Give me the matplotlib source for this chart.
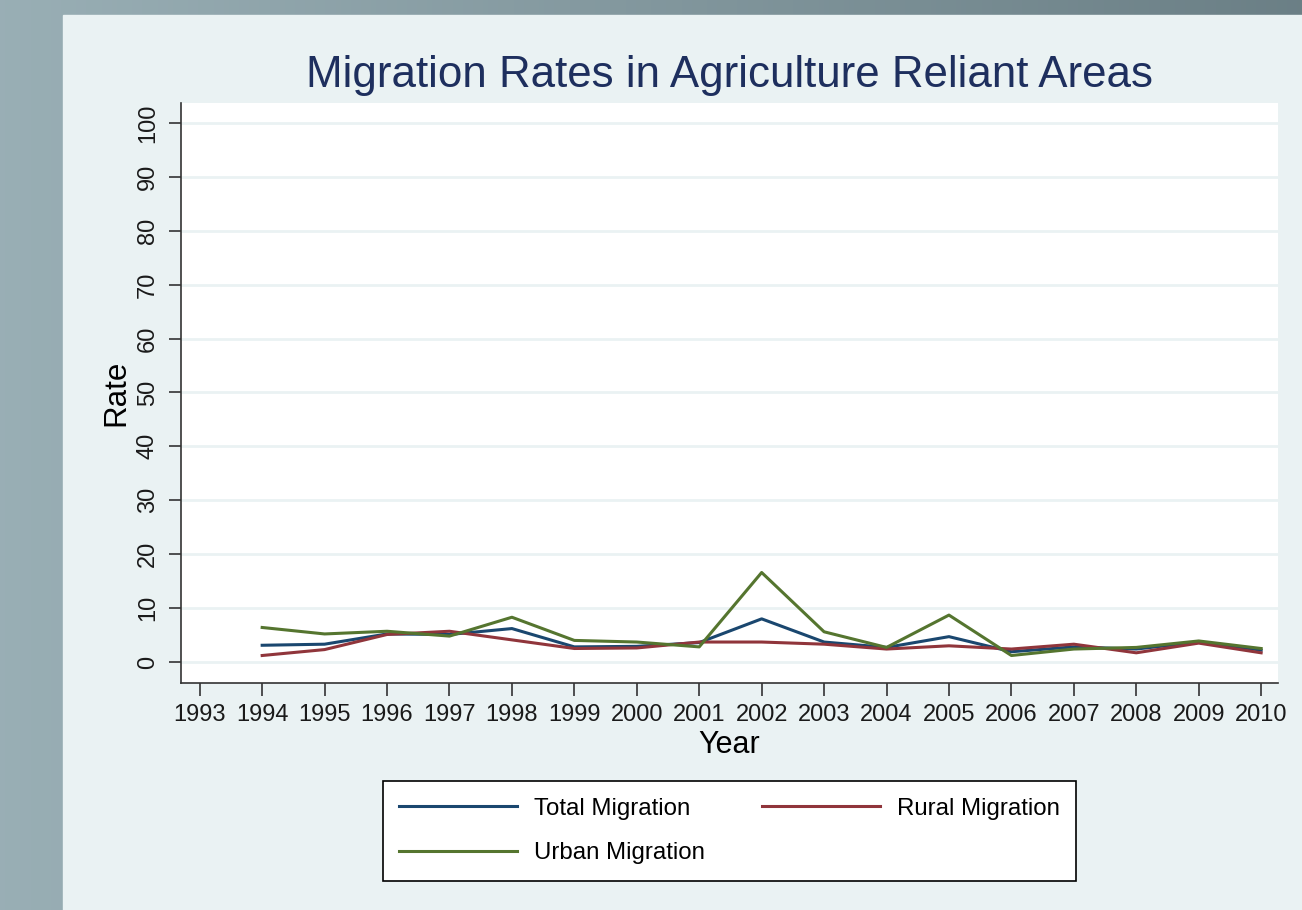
import numpy as np
import matplotlib
matplotlib.use("Agg")
import matplotlib.pyplot as plt
from matplotlib.patches import Rectangle

plt.rcParams["font.family"] = ["Liberation Sans", "DejaVu Sans"]

# data
years = [1994, 1995, 1996, 1997, 1998, 1999, 2000, 2001, 2002,
         2003, 2004, 2005, 2006, 2007, 2008, 2009, 2010]
total_migration = [3.1, 3.3, 5.2, 5.1, 6.2, 2.8, 2.9, 3.6, 8.0,
                   3.7, 2.7, 4.7, 1.9, 2.8, 2.4, 3.7, 2.2]
rural_migration = [1.2, 2.3, 5.1, 5.7, 4.1, 2.5, 2.6, 3.7, 3.7,
                   3.3, 2.4, 3.0, 2.4, 3.3, 1.7, 3.5, 1.7]
urban_migration = [6.4, 5.2, 5.7, 4.8, 8.3, 4.0, 3.7, 2.8, 16.6,
                   5.6, 2.7, 8.7, 1.2, 2.4, 2.7, 3.9, 2.5]
x_ticks = list(range(1993, 2011))
y_ticks = list(range(0, 101, 10))

W, H = 1302, 910
fig = plt.figure(figsize=(W / 100, H / 100), dpi=100)

# slide background (gradient) + light stata panel
bg = fig.add_axes([0, 0, 1, 1])
grad = np.linspace(0, 1, 256)
c0 = np.array([0.60, 0.685, 0.71])
c1 = np.array([0.42, 0.50, 0.525])
img = c0[None, :] * (1 - grad[:, None]) + c1[None, :] * grad[:, None]
bg.imshow(img[None, :, :], aspect="auto", extent=[0, 1, 0, 1])
bg.add_patch(Rectangle((63 / W, 0), 1 - 63 / W, 1 - 15 / H, color="#eaf2f3", zorder=2))
bg.set_xlim(0, 1)
bg.set_ylim(0, 1)
bg.axis("off")

left, right, top, bottom = 181, 1278, 103, 683
ax = fig.add_axes([left / W, 1 - bottom / H, (right - left) / W, (bottom - top) / H])
ax.set_facecolor("white")

l_total, = ax.plot(years, total_migration, color="#1a476f", lw=2.2, label="Total Migration")
l_rural, = ax.plot(years, rural_migration, color="#90353b", lw=2.2, label="Rural Migration")
l_urban, = ax.plot(years, urban_migration, color="#55752f", lw=2.2, label="Urban Migration")

ax.set_xlim(1992.70, 2010.27)
ax.set_ylim(-3.9, 103.7)
ax.set_xticks(x_ticks)
ax.set_yticks(y_ticks)
ax.set_yticklabels([str(v) for v in y_ticks], rotation=90, va="center")
ax.grid(axis="y", color="#eaf2f3", lw=2.0)
ax.set_axisbelow(True)

for s in ["top", "right"]:
    ax.spines[s].set_visible(False)
for s in ["left", "bottom"]:
    ax.spines[s].set_color("#333333")
    ax.spines[s].set_linewidth(1.2)

ax.tick_params(axis="both", length=9, width=1.2, color="#333333",
               labelsize=17, labelcolor="#1a1a1a")
ax.tick_params(axis="y", pad=7)
ax.tick_params(axis="x", pad=6)

ax.set_xlabel("Year", fontsize=22, labelpad=3)
ax.set_ylabel("Rate", fontsize=22.5, labelpad=4)

fig.text(729.5 / W, 1 - 87 / H, "Migration Rates in Agriculture Reliant Areas",
         ha="center", va="baseline", fontsize=31.6, color="#1e2f5e")

# column-major fill -> Total/Rural on row 1, Urban on row 2
leg = fig.legend([l_total, l_urban, l_rural],
                 ["Total Migration", "Urban Migration", "Rural Migration"],
                 loc="center", bbox_to_anchor=(729.5 / W, 1 - 831 / H), ncol=2,
                 fontsize=17.3, frameon=True, fancybox=False, handlelength=4.9,
                 handletextpad=0.7, columnspacing=2.4, borderpad=0.68,
                 labelspacing=0.95)
leg.get_frame().set_edgecolor("black")
leg.get_frame().set_linewidth(1.2)
leg.get_frame().set_facecolor("white")
leg.get_frame().set_alpha(1)

plt.savefig("out.png", dpi=100)
